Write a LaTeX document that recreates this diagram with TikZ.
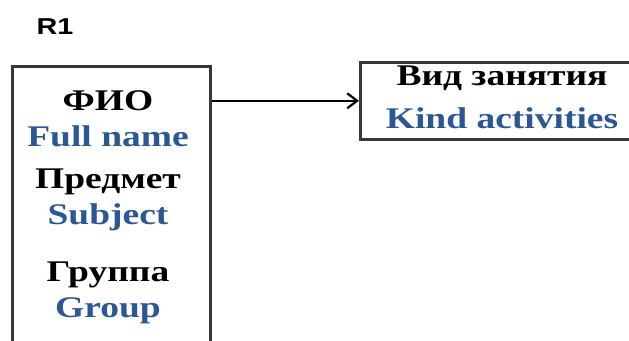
\documentclass[tikz,border=0pt]{standalone}
\usepackage{fontspec}
\setmainfont{Liberation Serif}[FakeStretch=1.25]
\newfontfamily\labelfont{Liberation Sans}[FakeStretch=1.25]
\usetikzlibrary{arrows.meta, positioning}
\definecolor{engblue}{RGB}{43,87,151}
\definecolor{boxgrey}{RGB}{55,55,55}

\begin{document}
\begin{tikzpicture}[x=1pt, y=-1pt,
        entity/.style={draw=boxgrey, line width=2.6pt, rectangle, inner sep=0pt},
        rus/.style={font=\fontsize{30}{30}\selectfont\bfseries, anchor=base},
        eng/.style={rus, text=engblue}]
        \useasboundingbox (0,0) rectangle (629,340);
        \clip (0,0) rectangle (629,340);

        \node[font=\labelfont\bfseries\fontsize{23}{23}\selectfont, anchor=base west] (r1) at (33,34) {R1};

        % entities
        \node[entity, minimum width=198pt, minimum height=300pt, anchor=north west] (teacher)  at (11,65) {};
        \node[entity, minimum width=300pt, minimum height=77pt, anchor=north west]  (activity) at (359,61) {};

        % attributes
        \node[rus] (fio)     at (108,110) {ФИО};
        \node[eng] (fullname) at (108,146) {Full name};
        \node[rus] (subjru)  at (108,188) {Предмет};
        \node[eng] (subjen)  at (108,224) {Subject};
        \node[rus] (groupru) at (108,281) {Группа};
        \node[eng] (groupen) at (108,317) {Group};

        \node[rus] (kindru)  at (502,85)  {Вид занятия};
        \node[eng] (kinden)  at (502,128) {Kind activities};

        \draw[-{Straight Barb[length=10pt, width=15pt]}, line width=2.2pt]
        (teacher.east |- activity.west) -- (activity.west);
\end{tikzpicture}
\end{document}
